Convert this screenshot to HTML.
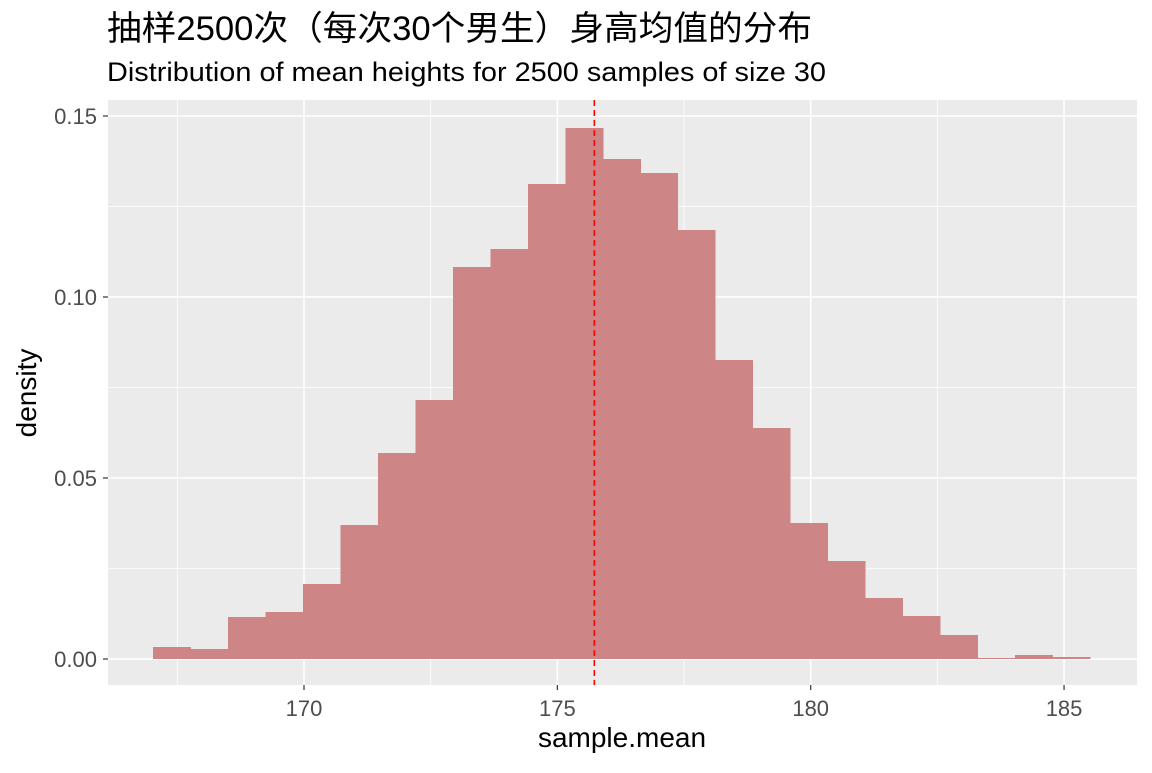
<!DOCTYPE html>
<html><head><meta charset="utf-8"><style>
html,body{margin:0;padding:0;background:#fff;}
svg text{font-family:"Liberation Sans","Noto Sans CJK SC",sans-serif;}
</style></head><body>
<svg id="chart" width="1152" height="768">
<text x="107" y="40" font-size="34" fill="#000" textLength="705" lengthAdjust="spacingAndGlyphs">抽样2500次（每次30个男生）身高均值的分布</text>
<text x="107" y="81" font-size="27" fill="#000" textLength="719" lengthAdjust="spacingAndGlyphs">Distribution of mean heights for 2500 samples of size 30</text>
<rect x="108" y="100" width="1029" height="585" fill="#ebebeb"/>
<g id="grid"></g><g id="bars" shape-rendering="crispEdges"></g><g id="axes"></g>
<text x="622" y="747" font-size="28" text-anchor="middle" fill="#000">sample.mean</text>
<text transform="translate(36,393) rotate(-90)" font-size="28" text-anchor="middle" fill="#000">density</text>
</svg>
<script>
const binStart = 167.02;
const binWidth = 0.7397;
const densities = [0.0033,0.0028,0.0116,0.013,0.0207,0.037,0.0569,0.0715,0.1083,0.1133,0.1312,0.1467,0.1381,0.1343,0.1185,0.0826,0.0638,0.0376,0.0271,0.0169,0.0119,0.0066,0.0003,0.0011,0.0006];
const xTicks = [170,175,180,185];
const xMinor = [167.5,172.5,177.5,182.5];
const yTicks = [0,0.05,0.10,0.15];
const yTickLabels = ["0.00","0.05","0.10","0.15"];
const yMinor = [0.025,0.075,0.125];
const meanValue = 175.73;

const X = v => 304 + (v-170)*50.67;
const Y = v => 659 - v*3620;
const NS = "http://www.w3.org/2000/svg";
function mk(tag, attrs, parent){const e=document.createElementNS(NS,tag);for(const k in attrs)e.setAttribute(k,attrs[k]);parent.appendChild(e);return e;}
const grid=document.getElementById('grid'), bars=document.getElementById('bars'), axes=document.getElementById('axes');
xMinor.forEach(v=>{const l=mk('line',{x1:X(v),x2:X(v),y1:100,y2:685,stroke:'#fff','stroke-width':0.8},grid);

});
yMinor.forEach(v=>{const l=mk('line',{x1:108,x2:1137,y1:Y(v),y2:Y(v),stroke:'#fff','stroke-width':0.8},grid);

});
xTicks.forEach(v=>{const l=mk('line',{x1:X(v),x2:X(v),y1:100,y2:685,stroke:'#fff','stroke-width':1.6},grid);


const t=mk('line',{x1:X(v),x2:X(v),y1:685,y2:690,stroke:'#333','stroke-width':1.2},axes);


const tx=mk('text',{x:X(v),y:716,'font-size':22,fill:'#4d4d4d','text-anchor':'middle'},axes);tx.textContent=v;

});
yTicks.forEach((v,i)=>{const l=mk('line',{x1:108,x2:1137,y1:Y(v),y2:Y(v),stroke:'#fff','stroke-width':1.6},grid);


const t=mk('line',{x1:103,x2:108,y1:Y(v),y2:Y(v),stroke:'#333','stroke-width':1.2},axes);


const tx=mk('text',{x:97,y:Y(v)+8,'font-size':22,fill:'#4d4d4d','text-anchor':'end'},axes);tx.textContent=yTickLabels[i];

});
densities.forEach((d,i)=>{const x0=X(binStart+i*binWidth),x1=X(binStart+(i+1)*binWidth);
const r=mk('rect',{x:x0,y:Y(d),width:x1-x0+0.5,height:Y(0)-Y(d),fill:'#cd8585'},bars);

});
const m=mk('line',{x1:X(meanValue),x2:X(meanValue),y1:100,y2:685,stroke:'#ff0000','stroke-width':1.6,'stroke-dasharray':'6,4'},axes);


</script>
</body></html>
